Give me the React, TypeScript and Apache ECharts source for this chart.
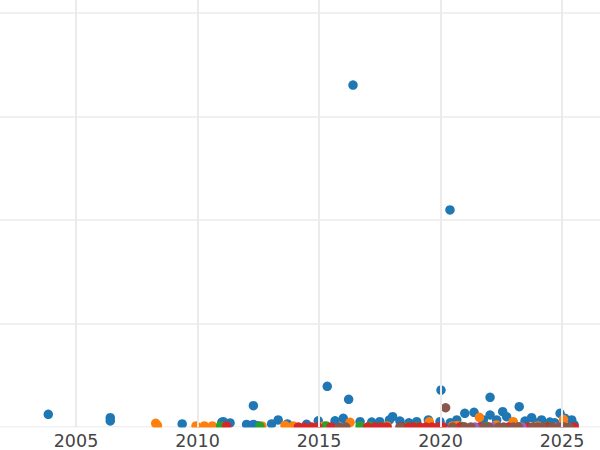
import React, { useEffect, useRef } from "react";
import * as echarts from "echarts";

// [decimal year, value]
const blueData: number[][] = [
  [2003.86, 12.3], [2006.41, 9], [2006.41, 5.8], [2009.37, 3], [2011.0, 4.5], [2011.06, 5.1],
  [2011.34, 3.9], [2012.02, 2.5], [2012.3, 20.6], [2012.3, 2.5], [2012.5, 1.2], [2013.05, 3],
  [2013.32, 6.8], [2013.7, 3], [2014.49, 2.6], [2014.97, 6], [2015.34, 39.3], [2015.66, 6],
  [2016.0, 8.4], [2016.22, 26.8], [2016.4, 330.4], [2016.69, 5.1], [2017.17, 4.8], [2017.5, 5.1],
  [2017.9, 6.8], [2018.03, 10], [2018.33, 5.8], [2018.7, 4], [2019.02, 5.1], [2019.5, 6.8],
  [2019.98, 5.1], [2020.02, 35.7], [2020.39, 209.7], [2020.4, 4], [2020.67, 6.8], [2021.0, 13.2],
  [2021.38, 14.2], [2021.76, 6.8], [2022.04, 28.7], [2022.04, 11.6], [2022.31, 6.8],
  [2022.56, 14.8], [2022.72, 10], [2023.0, 4], [2023.24, 19.6], [2023.48, 5.8], [2023.75, 9],
  [2024.0, 4], [2024.16, 6.8], [2024.5, 4.8], [2024.7, 4], [2024.92, 13.2], [2025.12, 8.4],
  [2025.4, 6.8], [2025.5, 2],
];
const orangeData: number[][] = [
  [2008.28, 3.6], [2008.35, 1.5], [2009.94, 1], [2010.28, 1], [2010.61, 1], [2012.65, 1],
  [2013.6, 1.5], [2013.94, 1], [2015.2, 1], [2016.28, 4.5], [2017.8, 1], [2019.54, 5],
  [2020.5, 1], [2020.7, 1.5], [2021.6, 9.4], [2022.3, 2], [2022.99, 5.1], [2024.0, 1],
  [2025.06, 7.4],
];
const greenData: number[][] = [
  [2010.95, 1], [2012.57, 0.5], [2015.3, 1], [2016.69, 1], [2017.1, 1], [2017.6, 0.5],
  [2018.66, 0.5], [2019.0, 0.5], [2020.9, 0.5], [2021.9, 0.5], [2023.3, 0.5], [2024.4, 0.5],
];
const redData: number[][] = [
  [2011.2, 1], [2014.15, 0], [2014.4, 0], [2014.7, 0], [2014.95, 0], [2015.5, 0],
  [2017.0, 0], [2017.3, 0], [2017.55, 0], [2017.8, 0], [2018.4, 0], [2018.7, 0],
  [2018.9, 0], [2019.15, 0], [2019.4, 0], [2019.65, 0], [2019.9, 0], [2020.1, 0],
  [2020.8, 0], [2021.6, 0], [2022.8, 0], [2023.6, 0], [2024.4, 0], [2025.5, 0],
];
const purpleData: number[][] = [
  [2021.42, 0], [2022.15, 0], [2023.35, 0], [2024.75, 0],
];
const brownData: number[][] = [
  [2015.86, 0], [2016.1, 0], [2018.33, 0], [2020.21, 18.6], [2020.5, 0], [2021.0, 0],
  [2021.25, 0], [2021.8, 0], [2022.0, 0], [2022.4, 0], [2022.6, 0], [2023.0, 0],
  [2023.2, 0], [2023.8, 0], [2024.0, 0], [2024.2, 0], [2024.6, 0], [2024.9, 0],
  [2025.1, 0], [2025.3, 0],
];

const xTickLabels = ["2005", "2010", "2015", "2020", "2025"];

const seriesList = [
  { name: "blue", color: "#1f77b4", data: blueData },
  { name: "orange", color: "#ff7f0e", data: orangeData },
  { name: "green", color: "#2ca02c", data: greenData },
  { name: "red", color: "#d62728", data: redData },
  { name: "purple", color: "#9467bd", data: purpleData },
  { name: "brown", color: "#8c564b", data: brownData },
];

export default function App() {
  const ref = useRef<HTMLDivElement>(null);
  useEffect(() => {
    if (!ref.current) return;
    const chart = echarts.init(ref.current, null, { renderer: "svg" });
    chart.setOption({
      animation: false,
      backgroundColor: "#ffffff",
      grid: {
        left: 0.5,
        right: 0.5,
        top: 0.5,
        bottom: 23,
        containLabel: false,
        outerBoundsMode: "none",
      },
      xAxis: {
        type: "value",
        min: 2000,
        max: 2030,
        interval: 5,
        z: 10,
        axisLine: { show: false },
        axisTick: { show: false },
        axisLabel: {
          formatter: (v: number) => (xTickLabels.includes(String(v)) ? String(v) : ""),
          fontFamily: "DejaVu Sans",
          fontSize: 17.5,
          color: "#444444",
          margin: 5,
        },
        splitLine: { show: true, lineStyle: { color: "#ebebeb", width: 2 } },
      },
      yAxis: {
        type: "value",
        min: 0,
        max: 500,
        interval: 100,
        axisLine: { show: false },
        axisTick: { show: false },
        axisLabel: { show: false },
        splitLine: { show: true, lineStyle: { color: "#ebebeb", width: 1.5 } },
      },
      graphic: [
        {
          type: "rect",
          z: 5,
          shape: { x: 0, y: 518.5, width: 730, height: 30 },
          style: { fill: "#ffffff" },
        },
      ],
      series: seriesList.map((s) => ({
        type: "scatter",
        name: s.name,
        data: s.data,
        symbolSize: 9.5,
        itemStyle: { color: s.color, opacity: 1 },
        clip: false,
      })),
    });
    return () => chart.dispose();
  }, []);
  return (
    <div
      style={{
        position: "absolute",
        left: 0,
        top: 0,
        width: 600,
        height: 450,
        overflow: "hidden",
        background: "#ffffff",
      }}
    >
      <div
        ref={ref}
        style={{ position: "absolute", left: -46, top: -91, width: 730, height: 541 }}
      />
    </div>
  );
}
